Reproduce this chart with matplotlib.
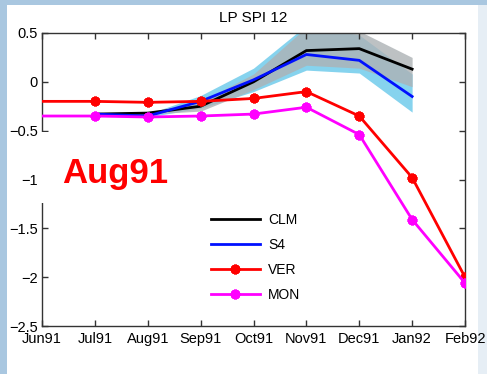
import matplotlib
matplotlib.use("Agg")
import matplotlib.pyplot as plt
from matplotlib.patches import Rectangle

plt.rcParams['font.family'] = ['Liberation Sans', 'DejaVu Sans']

months = ['Jun91', 'Jul91', 'Aug91', 'Sep91', 'Oct91', 'Nov91', 'Dec91', 'Jan92', 'Feb92']
ver = [-0.20, -0.20, -0.21, -0.20, -0.17, -0.10, -0.35, -0.98, -2.00]
mon = [-0.35, -0.35, -0.36, -0.35, -0.33, -0.26, -0.54, -1.41, -2.06]

# model runs only cover Jul91 .. Jan92
model_idx = [1, 2, 3, 4, 5, 6, 7]
clm = [-0.33, -0.32, -0.25, 0.00, 0.32, 0.34, 0.13]
clm_lo = [-0.34, -0.33, -0.30, -0.08, 0.17, 0.14, -0.05]
clm_hi = [-0.32, -0.31, -0.20, 0.08, 0.56, 0.52, 0.25]
s4 = [-0.33, -0.35, -0.20, 0.02, 0.28, 0.22, -0.15]
s4_lo = [-0.34, -0.36, -0.27, -0.10, 0.12, 0.09, -0.31]
s4_hi = [-0.32, -0.33, -0.14, 0.14, 0.58, 0.48, 0.08]

x_all = list(range(len(months)))

fig = plt.figure(figsize=(4.87, 3.74), dpi=100, facecolor='#a9c7e0')
fig.patches.append(Rectangle((7/487, 0), 471/487, 369/374, transform=fig.transFigure,
                             facecolor='white', edgecolor='none', zorder=-10))
fig.patches.append(Rectangle((478/487, 0), 9/487, 369/374, transform=fig.transFigure,
                             facecolor='#e6eef5', edgecolor='none', zorder=-10))

ax = fig.add_axes([42/487, 48/374, 423/487, 293/374])
ax.set_facecolor('white')

ax.fill_between(model_idx, s4_lo, s4_hi, color='#86d3ee', lw=0, zorder=1)
ax.fill_between(model_idx, clm_lo, clm_hi, color='#adb2b5', alpha=0.8, lw=0, zorder=1.1)

ax.plot(model_idx, clm, color='black', lw=2, label='CLM', zorder=3)
ax.plot(model_idx, s4, color='#0010ff', lw=2, label='S4', zorder=3.1)
mk = dict(marker=(8, 2, 0), markersize=7, markeredgewidth=2.2, markevery=list(range(1, 9)))
ax.plot(x_all, ver, color='#ff0000', lw=2, label='VER', zorder=3.2, **mk)
ax.plot(x_all, mon, color='#ff00ff', lw=2, label='MON', zorder=3.3, **mk)

ax.set_xlim(0, 8)
ax.set_ylim(-2.5, 0.5)
ax.set_xticks(x_all)
ax.set_xticklabels(months)
ax.set_yticks([-2.5, -2, -1.5, -1, -0.5, 0, 0.5])
ax.set_yticklabels(['\u22122.5', '\u22122', '\u22121.5', '\u22121', '\u22120.5', '0', '0.5'])
ax.tick_params(direction='in', top=True, right=True, length=4, width=1, color='#333333',
               labelsize=10.5, pad=4)
ax.tick_params(axis='y', pad=3)
for s in ax.spines.values():
    s.set_color('#333333')
    s.set_linewidth(1)

ax.set_title('LP SPI 12', fontsize=11, pad=8)

leg = ax.legend(loc='upper left', bbox_to_anchor=(0.37, 0.43), frameon=False,
                fontsize=10, handlelength=3.5, labelspacing=0.8, handletextpad=0.6)

# white box over the left spine behind the label
fig.patches.append(Rectangle((40/487, 171/374), 140/487, 71/374, transform=fig.transFigure,
                             facecolor='white', edgecolor='none', zorder=5))
fig.text(62/487, 191/374, 'Aug91', color='#ff0000', fontsize=25, fontweight='bold',
         ha='left', va='baseline', zorder=6)

fig.savefig('out.png', dpi=100, facecolor=fig.get_facecolor())
